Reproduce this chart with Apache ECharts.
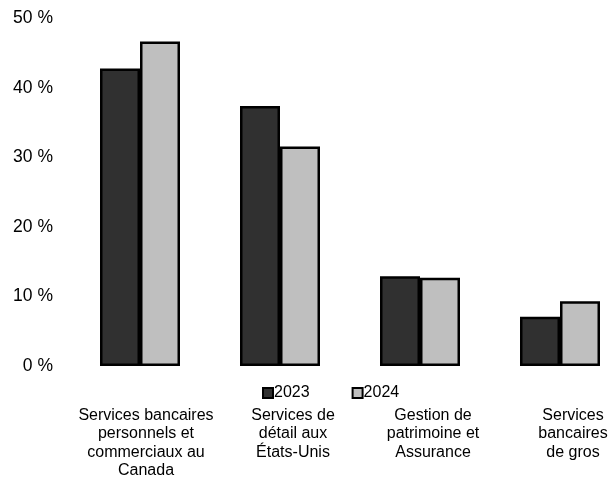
<!DOCTYPE html>
<html>
<head>
<meta charset="utf-8">
<script src="https://cdn.jsdelivr.net/npm/echarts@6/dist/echarts.min.js"></script>
<style>
  html, body { margin: 0; padding: 0; background: #fff; }
  #main { width: 608px; height: 479px; }
</style>
</head>
<body>
<div id="main"></div>
<script>
var categories = [
  'Services bancaires\npersonnels et\ncommerciaux au\nCanada',
  'Services de\ndétail aux\nÉtats-Unis',
  'Gestion de\npatrimoine et\nAssurance',
  'Services\nbancaires\nde gros'
];
var values2023 = [42.8, 37.4, 12.9, 7.1];
var values2024 = [46.7, 31.6, 12.7, 9.3];
var yTicks = [0, 10, 20, 30, 40, 50];

var font = '"Liberation Sans", Arial, sans-serif';
var myChart = echarts.init(document.getElementById('main'));

// per-category nudges so the labels sit like in the original
var labelShift = ['c0', 'c1', 'c1', 'c1'];

var option = {
  animation: false,
  grid: { left: 70, width: 560, top: 18.5, bottom: 113, outerBoundsMode: 'none' },
  legend: {
    data: ['2023', '2024'],
    left: 262,
    top: 385,
    padding: 0,
    icon: 'rect',
    itemWidth: 10,
    itemHeight: 10,
    itemGap: 42,
    textStyle: { fontFamily: font, fontSize: 16, color: '#000', padding: [0, 0, 0, -4] }
  },
  xAxis: {
    type: 'category',
    data: categories,
    axisLine: { show: false },
    axisTick: { show: false },
    axisLabel: {
      margin: 40,
      interval: 0,
      formatter: function (v, i) {
        return v.split('\n').map(function (s) {
          return '{' + labelShift[i] + '|' + s + '}';
        }).join('\n');
      },
      rich: {
        c0: { fontFamily: font, fontSize: 16, color: '#000', lineHeight: 18.5, padding: [0, 0, 0, 12] },
        c1: { fontFamily: font, fontSize: 16, color: '#000', lineHeight: 18.5, padding: [0, 0, 0, 26] }
      }
    }
  },
  yAxis: {
    type: 'value',
    min: yTicks[0],
    max: yTicks[yTicks.length - 1],
    interval: 10,
    axisLine: { show: false },
    axisTick: { show: false },
    splitLine: { show: false },
    axisLabel: {
      margin: 17,
      fontFamily: font,
      fontSize: 17.5,
      color: '#000',
      formatter: '{value} %'
    }
  },
  series: [
    {
      name: '2023',
      type: 'bar',
      data: values2023,
      barWidth: 40,
      barGap: '0%',
      itemStyle: { color: '#303030', borderColor: '#000', borderWidth: 2.5 }
    },
    {
      name: '2024',
      type: 'bar',
      data: values2024,
      barWidth: 40,
      barGap: '0%',
      itemStyle: { color: '#bfbfbf', borderColor: '#000', borderWidth: 2.5 }
    }
  ]
};

myChart.setOption(option);
</script>
</body>
</html>
